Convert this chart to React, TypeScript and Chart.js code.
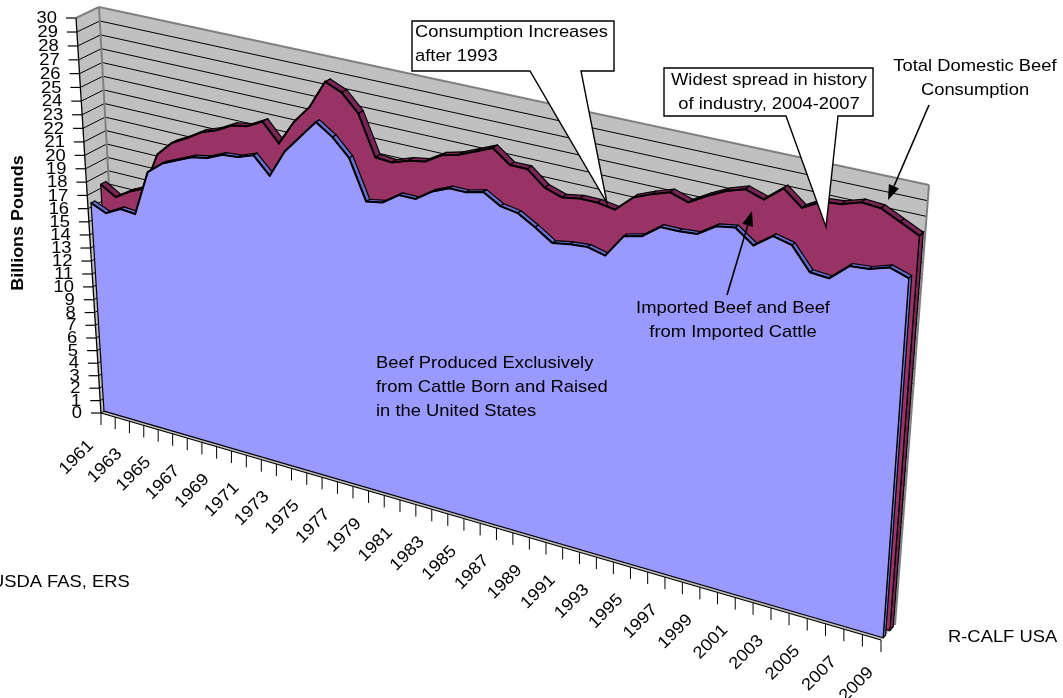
import React, { useEffect, useRef } from "react";
import { Chart, registerables } from "chart.js";
Chart.register(...registerables);

const years = ["1961","1962","1963","1964","1965","1966","1967","1968","1969","1970","1971","1972","1973","1974","1975","1976","1977","1978","1979","1980","1981","1982","1983","1984","1985","1986","1987","1988","1989","1990","1991","1992","1993","1994","1995","1996","1997","1998","1999","2000","2001","2002","2003","2004","2005","2006","2007","2008","2009"];
const usBorn = [16.3,15.8,16.4,16.3,19.7,20.6,21.1,21.6,21.8,22.3,22.4,22.8,21.6,23.6,24.9,26.2,25.4,24.2,21.4,21.6,22.4,22.4,23.2,23.7,23.7,24.0,23.3,23.1,22.4,21.6,21.8,21.9,21.6,23.2,23.5,24.4,24.4,24.5,25.3,25.5,24.6,25.5,25.2,23.7,23.6,24.7,24.8,25.2,24.8];
const totalConsumption = [17.3,16.6,17.3,17.8,20.6,21.7,22.3,23.0,23.4,24.0,24.2,24.8,23.5,25.3,26.6,28.6,28.1,26.9,24.1,24.0,24.4,24.6,25.3,25.6,26.1,26.6,25.7,25.7,24.7,24.3,24.5,24.5,24.3,25.4,25.9,26.3,25.9,26.6,27.2,27.6,27.2,28.2,27.2,27.9,28.0,28.4,28.3,27.7,27.1];

const FONT = '17px "Liberation Sans", Arial, sans-serif';
const BOLD = 'bold 16.6px "Liberation Sans", Arial, sans-serif';
const STRETCH = 1.08;
const W = 1063, H = 698;
const FRONT = { bl: [101, 413], br: [881, 640], tl: [76, 18], tr: [912, 199] };
const BACK = { bl: [121, 401], br: [895, 625], tl: [99, 7], tr: [929, 185] };
const BANDS = [[0.15, 0.33], [0.63, 0.87]];
const FACE = ["#9999FF", "#993366"];
const STRIP = ["#6670CC", "#7A2458"];

const lerp = (a: number[], b: number[], t: number) => [a[0] + (b[0] - a[0]) * t, a[1] + (b[1] - a[1]) * t];
const cache: Record<string, any> = {};
function matrix(dep: number) {
  const key = String(dep);
  if (cache[key]) return cache[key];
  const p0 = lerp(FRONT.bl, BACK.bl, dep), p1 = lerp(FRONT.br, BACK.br, dep), p2 = lerp(FRONT.tr, BACK.tr, dep), p3 = lerp(FRONT.tl, BACK.tl, dep);
  const dx1 = p1[0] - p2[0], dx2 = p3[0] - p2[0], sx = p0[0] - p1[0] + p2[0] - p3[0];
  const dy1 = p1[1] - p2[1], dy2 = p3[1] - p2[1], sy = p0[1] - p1[1] + p2[1] - p3[1];
  const den = dx1 * dy2 - dx2 * dy1;
  const g = (sx * dy2 - dx2 * sy) / den, h = (dx1 * sy - sx * dy1) / den;
  const m = {
    a: p1[0] - p0[0] + g * p1[0], b: p3[0] - p0[0] + h * p3[0], c: p0[0],
    d: p1[1] - p0[1] + g * p1[1], e: p3[1] - p0[1] + h * p3[1], f: p0[1], g, h,
  };
  cache[key] = m;
  return m;
}
function project(u: number, v: number, dep: number) {
  const m = matrix(dep);
  const w = m.g * u + m.h * v + 1;
  return [(m.a * u + m.b * v + m.c) / w, (m.d * u + m.e * v + m.f) / w];
}
// scale pixels -> unit plane coordinates
const U = (chart: any, i: number) => (chart.scales.x.getPixelForValue(i) - chart.chartArea.left) / (chart.chartArea.right - chart.chartArea.left);
const V = (chart: any, val: number) => (chart.chartArea.bottom - chart.scales.y.getPixelForValue(val)) / (chart.chartArea.bottom - chart.chartArea.top);

function poly(ctx: CanvasRenderingContext2D, pts: number[][], fill?: string, stroke?: string, lw = 1) {
  ctx.beginPath();
  pts.forEach((p, i) => (i ? ctx.lineTo(p[0], p[1]) : ctx.moveTo(p[0], p[1])));
  ctx.closePath();
  if (fill) { ctx.fillStyle = fill; ctx.fill(); }
  if (stroke) { ctx.strokeStyle = stroke; ctx.lineWidth = lw; ctx.stroke(); }
}
function seg(ctx: CanvasRenderingContext2D, a: number[], b: number[], col: string, lw: number) {
  ctx.beginPath(); ctx.moveTo(a[0], a[1]); ctx.lineTo(b[0], b[1]);
  ctx.strokeStyle = col; ctx.lineWidth = lw; ctx.stroke();
}
function arrow(ctx: CanvasRenderingContext2D, a: number[], b: number[]) {
  const ang = Math.atan2(b[1] - a[1], b[0] - a[0]);
  const len = 15, wid = 5.5;
  const base = [b[0] - Math.cos(ang) * len, b[1] - Math.sin(ang) * len];
  seg(ctx, a, base, "#000", 1.6);
  const nx = -Math.sin(ang) * wid, ny = Math.cos(ang) * wid;
  poly(ctx, [b, [base[0] + nx, base[1] + ny], [base[0] - nx, base[1] - ny]], "#000");
}
function callout(ctx: CanvasRenderingContext2D, box: number[], b1: number, b2: number, tip: number[]) {
  const [x0, y0, x1, y1] = box;
  poly(ctx, [[x0, y0], [x1, y0], [x1, y1], [b2, y1], tip, [b1, y1], [x0, y1]], "#fff", "#000", 1.4);
}
function label(ctx: CanvasRenderingContext2D, s: string, x: number, y: number) {
  ctx.save();
  ctx.translate(x, y);
  ctx.scale(STRETCH, 1);
  ctx.fillStyle = "#000";
  ctx.fillText(s, 0, 0);
  ctx.restore();
}

const plugin = {
  id: "perspective",
  afterDatasetsUpdate(chart: any) {
    chart.data.datasets.forEach((ds: any, idx: number) => {
      const meta = chart.getDatasetMeta(idx);
      meta.data.forEach((pt: any, i: number) => {
        const p = project(U(chart, i), V(chart, ds.data[i]), BANDS[idx][0]);
        pt.x = p[0]; pt.y = p[1];
      });
    });
  },
  beforeDatasetsDraw(chart: any) {
    const ctx: CanvasRenderingContext2D = chart.ctx;
    const yTicks: any[] = chart.scales.y.ticks;
    ctx.save();
    ctx.lineJoin = "round";
    // walls and floor
    poly(ctx, [project(0, 0, 0), project(1, 0, 0), project(1, 0, 1), project(0, 0, 1)], "#C0C0C0");
    poly(ctx, [project(0, 0, 0), project(0, 1, 0), project(0, 1, 1), project(0, 0, 1)], "#C0C0C0");
    poly(ctx, [project(0, 0, 1), project(0, 1, 1), project(1, 1, 1), project(1, 0, 1)], "#C0C0C0");
    yTicks.forEach((t) => {
      const v = V(chart, t.value);
      if (v > 0 && v < 1) {
        seg(ctx, project(0, v, 0), project(0, v, 1), "#000", 1);
        seg(ctx, project(0, v, 1), project(1, v, 1), "#000", 1);
      }
    });
    seg(ctx, project(0, 1, 0), project(0, 1, 1), "#808080", 2);
    seg(ctx, project(0, 1, 1), project(1, 1, 1), "#808080", 2);
    seg(ctx, project(0, 0, 1), project(0, 1, 1), "#808080", 2);
    seg(ctx, project(1, 0, 1), project(1, 1, 1), "#808080", 2);
    // axes
    seg(ctx, project(0, 0, 0), project(0, 1, 0), "#000", 1.3);
    seg(ctx, project(0, 0, 0), project(1, 0, 0), "#000", 1.3);
    seg(ctx, project(0, 0, 0), project(0, 0, 0.15), "#000", 1);
    ctx.font = FONT;
    ctx.textAlign = "right";
    ctx.textBaseline = "middle";
    yTicks.forEach((t) => {
      const p = project(0, V(chart, t.value), 0);
      seg(ctx, [p[0] - 10, p[1]], p, "#000", 1.2);
      label(ctx, String(t.value), p[0] - 19, p[1] + 0.5);
    });
    const labels: string[] = chart.scales.x.getLabels();
    labels.forEach((lab, i) => {
      const p = project(U(chart, i), 0, 0);
      seg(ctx, p, [p[0], p[1] + 12], "#000", 1);
      if (i % 2 === 0) {
        ctx.save();
        ctx.translate(p[0] - 10, p[1] + 30);
        ctx.rotate(-Math.PI / 4);
        label(ctx, lab, 0, 0);
        ctx.restore();
      }
    });
    ctx.restore();
  },
  beforeDatasetDraw(chart: any, args: any) {
    const idx = args.index;
    const ctx: CanvasRenderingContext2D = chart.ctx;
    const vals: number[] = chart.data.datasets[idx].data;
    const [f, b] = BANDS[idx];
    const n = vals.length;
    ctx.save();
    ctx.lineJoin = "round";
    const vl = V(chart, vals[n - 1]);
    poly(ctx, [project(1, 0, f), project(1, vl, f), project(1, vl, b), project(1, 0, b)], STRIP[idx], "#000", 1.2);
    for (let i = 0; i < n - 1; i++) {
      const u0 = U(chart, i), u1 = U(chart, i + 1), v0 = V(chart, vals[i]), v1 = V(chart, vals[i + 1]);
      poly(ctx, [project(u0, v0, f), project(u1, v1, f), project(u1, v1, b), project(u0, v0, b)], STRIP[idx], "#000", 1.2);
    }
    const pts: number[][] = [project(0, 0, f)];
    for (let i = 0; i < n; i++) pts.push(project(U(chart, i), V(chart, vals[i]), f));
    pts.push(project(1, 0, f));
    poly(ctx, pts, FACE[idx], "#000", 1.2);
    ctx.restore();
  },
  afterDatasetsDraw(chart: any) {
    const ctx: CanvasRenderingContext2D = chart.ctx;
    ctx.save();
    ctx.lineJoin = "miter";
    callout(ctx, [412, 21, 614, 71], 530, 581, [607, 203]);
    callout(ctx, [664, 68, 873, 116], 786, 838, [826, 227]);
    arrow(ctx, [929, 105], [888, 200]);
    arrow(ctx, [727, 295], [752, 211]);
    ctx.font = FONT;
    ctx.textBaseline = "middle";
    ctx.textAlign = "left";
    label(ctx, "Consumption Increases", 415, 32);
    label(ctx, "after 1993", 415, 56);
    label(ctx, "Beef Produced Exclusively", 376, 363);
    label(ctx, "from Cattle Born and Raised", 376, 387);
    label(ctx, "in the United States", 376, 411);
    label(ctx, "USDA FAS, ERS", -9, 582);
    label(ctx, "R-CALF USA", 948, 637);
    ctx.textAlign = "center";
    label(ctx, "Widest spread in history", 769, 80);
    label(ctx, "of industry, 2004-2007", 769, 104);
    label(ctx, "Total Domestic Beef", 975, 66);
    label(ctx, "Consumption", 975, 90);
    label(ctx, "Imported Beef and Beef", 733, 308);
    label(ctx, "from Imported Cattle", 733, 332);
    ctx.save();
    ctx.translate(18, 223);
    ctx.rotate(-Math.PI / 2);
    ctx.font = BOLD;
    label(ctx, "Billions Pounds", 0, 0);
    ctx.restore();
    ctx.restore();
  },
};

export default function App() {
  const ref = useRef<HTMLCanvasElement>(null);
  useEffect(() => {
    const chart = new Chart(ref.current!, {
      type: "line",
      data: {
        labels: years,
        datasets: [
          { label: "Beef Produced Exclusively from Cattle Born and Raised in the United States", data: usBorn, borderColor: "#000", backgroundColor: FACE[0], borderWidth: 2, pointRadius: 0, tension: 0, fill: false, clip: false },
          { label: "Total Domestic Beef Consumption", data: totalConsumption, borderColor: "#000", backgroundColor: FACE[1], borderWidth: 2, pointRadius: 0, tension: 0, fill: false, clip: false },
        ],
      } as any,
      options: {
        responsive: false,
        animation: false,
        layout: { padding: 0 },
        plugins: { legend: { display: false }, tooltip: { enabled: false }, title: { display: false } },
        scales: {
          x: { type: "category", display: false, offset: false, ticks: { autoSkip: false } },
          y: { display: false, min: 0, max: 30, ticks: { stepSize: 1 } },
        },
      } as any,
      plugins: [plugin as any],
    });
    return () => chart.destroy();
  }, []);
  return (
    <div style={{ position: "absolute", left: 0, top: 0, width: W, height: H, overflow: "hidden", background: "#fff" }}>
      <canvas ref={ref} width={W} height={H} style={{ display: "block" }} />
    </div>
  );
}
